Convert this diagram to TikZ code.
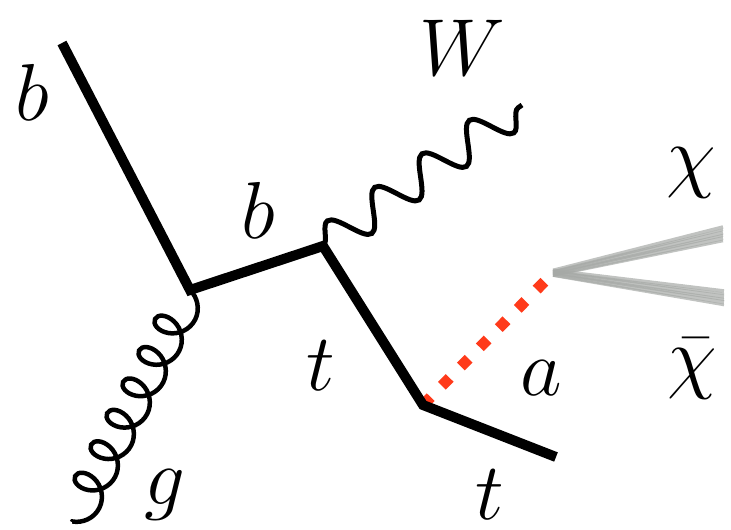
\documentclass[tikz,border=0pt]{standalone}
\usepackage{fix-cm}
\usepackage{amsmath}
\usetikzlibrary{decorations.pathmorphing,positioning}
\definecolor{ink}{HTML}{000000}
\definecolor{axion}{HTML}{FF3A1A}
\definecolor{dark}{HTML}{A6A9A6}

\begin{document}
\begin{tikzpicture}[x=0.02cm,y=-0.02cm,line width=.2cm]
      \tikzset{
        fermion/.style={draw=ink,line width=.2cm,line join=miter},
        boson/.style={draw=ink,line width=.1cm,decorate,
            decoration={snake,amplitude=.36cm,segment length=1.16cm}},
        gluon/.style={draw=ink,line width=.09cm,decorate,
            decoration={coil,amplitude=.36cm,segment length=.705cm,aspect=.85}},
        scalar/.style={draw=axion,line width=.22cm,dash pattern=on .22cm off .32cm},
        brush/.style={draw=dark,line width=.06cm,opacity=.7},
        lbl/.style={font=\fontsize{46}{50}\selectfont,anchor=base,inner sep=0pt}
      }
      \useasboundingbox (0,0) rectangle (731,529);

      \coordinate (bin) at (62,43);
      \coordinate (v1) at (190,290);
      \coordinate (v2) at (323,246);
      \coordinate (v3) at (423,405);
      \coordinate (tout) at (556,457);
      \coordinate (wout) at (522,105);
      \coordinate (gin) at (72,522);
      \coordinate (av) at (553,273);
      \coordinate (chi) at (723,234);
      \coordinate (chibar) at (724,298);

      % dark matter pair
      \foreach \d/\w in {-5/.05,-3/.08,-1/.06,1/.08,3/.05,5/.07}{
          \draw[brush,line width=\w cm] ([yshift=\d*0.3]av) -- ([yshift=\d*0.8]chi);
          \draw[brush,line width=\w cm] ([yshift=\d*0.3]av) -- ([yshift=\d*0.8]chibar);
        }
      \draw[scalar] (v3)--(av);

      \draw[fermion] (bin)--(v1)--(v2)--(v3)--(tout);
      \draw[boson] (v2)--(wout);
      \draw[gluon] (v1)--(gin);

      \node[lbl] (lb1) at (32,120) {$b$};
      \node[lbl] (lb2) at (258,238) {$b$};
      \node[lbl] (lw) at (462,75) {$W$};
      \node[lbl] (lchi) at (691,182) {$\chi$};
      \node[lbl] (lt1) at (321,390) {$t$};
      \node[lbl] (la) at (541,395) {$a$};
      \node[lbl] (lchib) at (692,383) {$\bar{\chi}$};
      \node[lbl] (lg) at (165,504) {$g$};
      \node[lbl] (lt2) at (490,519) {$t$};
    \end{tikzpicture}
\end{document}
